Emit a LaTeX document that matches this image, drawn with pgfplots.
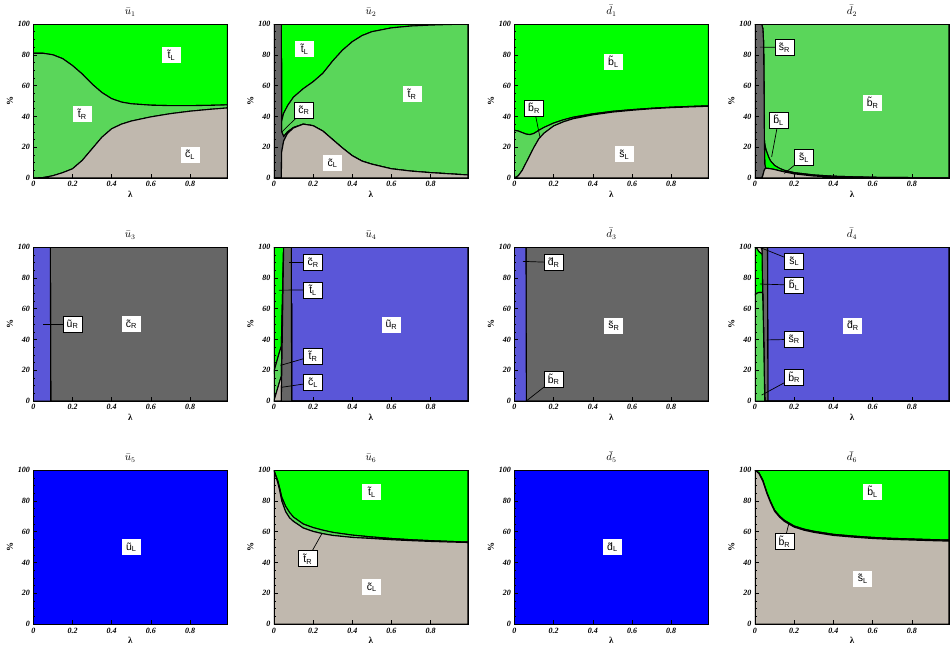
\documentclass[border=0pt]{standalone}
\usepackage{fontspec}
\setmainfont{Liberation Serif}
\newfontfamily\labfont{Liberation Sans}
\usepackage{pgfplots}
\pgfplotsset{compat=1.18}
\usepackage{pgfplotstable}
\usepgfplotslibrary{groupplots}

\definecolor{gA}{RGB}{0,255,0}
\definecolor{gB}{RGB}{90,214,90}
\definecolor{beige}{RGB}{192,184,174}
\definecolor{dgray}{RGB}{102,102,102}
\definecolor{purp}{RGB}{90,86,216}
\definecolor{blu}{RGB}{0,0,255}

\newcommand{\Lb}[2]{\~{#1}\textsubscript{#2}}

\tikzset{
  lab/.style={fill=white, font=\labfont\fontsize{10.5}{11}\selectfont, inner xsep=2.5pt, inner ysep=2pt, minimum height=16pt, minimum width=19pt},
  labb/.style={lab, draw=black, line width=0.7pt},
  lead/.style={black, line width=0.7pt}
}
\pgfplotsset{stk/.style={fill=#1, draw=black, line width=1.1pt}}

% position inside panel #1 at (lambda=#2, percent=#3)
\newcommand{\Lab}[4]{\node[lab] at ([shift={({#2*195.96pt},{#3*1.54pt})}]group #1.south west) {#4};}
\newcommand{\LabL}[6]{%
  \draw[lead] ([shift={({#2*195.96pt},{#3*1.54pt})}]group #1.south west) -- ([shift={({#4*195.96pt},{#5*1.54pt})}]group #1.south west);
  \node[labb] at ([shift={({#2*195.96pt},{#3*1.54pt})}]group #1.south west) {#6};}

% u1: lambda, cL, tR, tL
\pgfplotstableread{
l cL tR tL
0 0 81 19
0.05 0.3 80.7 19
0.1 1.5 78.5 20
0.15 3.5 74 22.5
0.2 6 67 27
0.25 11.5 56 32.5
0.3 19 42 39
0.35 26.5 29 44.5
0.4 32 19.5 48.5
0.45 35 14.3 50.7
0.5 37 11.2 51.8
0.6 39.7 7.6 52.7
0.7 41.8 5.2 53
0.8 43.4 3.6 53
0.9 44.6 2.6 52.8
0.99 45.5 2 52.5
}\tabuone

% u2: lambda, cL, cR, tR, tL
\pgfplotstableread{
l cL cR tR tL
0 0 100 0 0
0.038 0 100 0 0
0.04 17 13 7 63
0.05 24 3 15 58
0.07 29 1 17 53
0.1 32.5 0.3 19.7 47.5
0.15 35 0 23 42
0.2 34 0 28.5 37.5
0.25 30.5 0 37.5 32
0.3 25 0 51 24
0.35 19.5 0 63.5 17
0.4 14.5 0 74 11.5
0.45 11 0 81.5 7.5
0.5 9 0 86 5
0.6 6 0 91.5 2.5
0.7 4.5 0 94.2 1.3
0.8 3.5 0 95.8 0.7
0.9 2.7 0 97 0.3
0.99 2 0 97.8 0.2
}\tabutwo

% d1: lambda, sL, bR, bL
\pgfplotstableread{
l sL bR bL
0 0 31 69
0.02 1.5 29 69.5
0.04 5 24.5 70.5
0.06 10 18.5 71.5
0.08 15 13.2 71.8
0.1 20 9 71
0.125 25.5 5.5 69
0.15 29 3.8 67.2
0.2 33.8 1.9 64.3
0.25 36.5 1.3 62.2
0.3 38.5 1 60.5
0.4 41 0.7 58.3
0.5 42.8 0.5 56.7
0.6 44 0.4 55.6
0.7 45 0.3 54.7
0.8 45.7 0.3 54
0.9 46.2 0.3 53.5
0.99 46.6 0.3 53.1
}\tabdone

% d2: lambda, sL, sR, bL, bR
\pgfplotstableread{
l sL sR bL bR
0 0 100 0 0
0.034 0 100 0 0
0.04 1.5 95.5 0 3
0.044 3.5 84.5 0 12
0.046 4.5 55.5 0 40
0.048 5.3 19.7 0 75
0.05 5.8 3.2 13 78
0.055 6.2 0 12.8 81
0.06 6.3 0 10.7 83
0.07 6.2 0 7.3 86.5
0.08 6 0 5 89
0.1 5.5 0 2.7 91.8
0.125 4.7 0 1.6 93.7
0.15 4 0 1 95
0.2 2.7 0 0.8 96.5
0.3 1.3 0 0.7 98
0.4 0.7 0 0.5 98.8
0.5 0.4 0 0.4 99.2
0.6 0.3 0 0.2 99.5
0.8 0.15 0 0.15 99.7
0.99 0.1 0 0.1 99.8
}\tabdtwo

% u3: lambda, uR, cR
\pgfplotstableread{
l uR cR
0 100 0
0.087 100 0
0.089 0 100
0.99 0 100
}\tabuthree

% u4: lambda, cR, cL, tR, tL, uR
\pgfplotstableread{
l cR cL tR tL uR
0 0 0 19 81 0
0.01 0 4.3 19.2 76.5 0
0.02 0 8.6 19.4 72 0
0.03 0 12.9 19.6 67.5 0
0.038 0 16 19.5 64.5 0
0.05 100 0 0 0 0
0.089 100 0 0 0 0
0.091 0 0 0 0 100
0.99 0 0 0 0 100
}\tabufour

% d3: lambda, dR, sR
\pgfplotstableread{
l dR sR
0 100 0
0.059 100 0
0.061 0 100
0.99 0 100
}\tabdthree

% d4: lambda, bR, bL, sL, sR, dR
\pgfplotstableread{
l bR bL sL sR dR
0 69 31 0 0 0
0.01 70 29 1 0 0
0.02 70.5 26.5 3 0 0
0.03 70.5 25.5 4 0 0
0.036 70.5 25 2.5 2 0
0.039 70 2 0 28 0
0.043 50 0 0 50 0
0.047 20 0 0 80 0
0.05 0 0 0 100 0
0.064 0 0 0 100 0
0.066 0 0 0 0 100
0.99 0 0 0 0 100
}\tabdfour

% u6: lambda, cL, tR, tL
\pgfplotstableread{
l cL tR tL
0 100 0 0
0.01 96 0.5 3.5
0.02 91.7 1.3 7
0.03 86.5 1.5 12
0.04 80 2.5 17.5
0.06 73 3.5 23.5
0.08 69 3.5 27.5
0.1 66.7 2.8 30.5
0.15 62.4 2.6 35
0.2 60.2 2.5 37.3
0.25 58.7 2.3 39
0.3 57.6 2 40.4
0.4 56.3 1.5 42.2
0.5 55.6 1 43.4
0.6 54.8 0.8 44.4
0.7 54.2 0.6 45.2
0.8 53.7 0.5 45.8
0.9 53.3 0.4 46.3
0.99 53 0.3 46.7
}\tabusix

% d6: lambda, sL, bR, bL
\pgfplotstableread{
l sL bR bL
0 100 0 0
0.02 97.8 0.5 1.7
0.04 92.8 0.7 6.5
0.06 85 0.7 14.3
0.08 78.7 0.7 20.6
0.1 73.3 0.7 26
0.125 69.5 0.7 29.8
0.15 66.7 0.7 32.6
0.2 63 0.7 36.3
0.25 61 0.7 38.3
0.3 59.6 0.7 39.7
0.4 57.6 0.7 41.7
0.5 56.5 0.7 42.8
0.6 55.6 0.7 43.7
0.7 55 0.7 44.3
0.8 54.6 0.7 44.7
0.9 54.2 0.7 45.1
0.99 53.9 0.7 45.4
}\tabdsix

% u5 / d5: single state
\pgfplotstableread{
l v
0 100
0.99 100
}\tabfull

\begin{document}
\begin{tikzpicture}
\begin{groupplot}[
  group style={group size=4 by 3, horizontal sep=46.5pt, vertical sep=69pt},
  scale only axis, width=194pt, height=154pt,
  xmin=0, xmax=0.99, ymin=0, ymax=100,
  xtick={0,0.2,0.4,0.6,0.8}, ytick={0,20,40,60,80,100}, minor y tick num=3,
  tick pos=left, tick align=inside, axis on top,
  major tick length=4pt, minor tick length=2pt,
  tick style={black, line width=0.5pt},
  ticklabel style={font=\fontsize{8}{9}\selectfont\bfseries\itshape},
  /pgf/number format/assume math mode=true,
  xlabel={\textbf{λ}}, ylabel={\textbf{\%}},
  label style={font=\fontsize{9}{10}\selectfont},
  xlabel style={yshift=3pt},
  ylabel style={yshift=-2pt},
  title style={font=\fontsize{10.5}{12}\selectfont, yshift=-2pt},
  axis line style={line width=0.5pt},
  stack plots=y,
]
% ---------------- row 1 ----------------
\nextgroupplot[title={$\bar{u}_1$}]
\addplot[stk=beige] table[x=l,y=cL]{\tabuone} \closedcycle;
\addplot[stk=gB] table[x=l,y=tR]{\tabuone} \closedcycle;
\addplot[stk=gA] table[x=l,y=tL]{\tabuone} \closedcycle;

\nextgroupplot[title={$\bar{u}_2$}]
\addplot[stk=beige] table[x=l,y=cL]{\tabutwo} \closedcycle;
\addplot[stk=dgray] table[x=l,y=cR]{\tabutwo} \closedcycle;
\addplot[stk=gB] table[x=l,y=tR]{\tabutwo} \closedcycle;
\addplot[stk=gA] table[x=l,y=tL]{\tabutwo} \closedcycle;

\nextgroupplot[title={$\bar{d}_1$}]
\addplot[stk=beige] table[x=l,y=sL]{\tabdone} \closedcycle;
\addplot[stk=gB] table[x=l,y=bR]{\tabdone} \closedcycle;
\addplot[stk=gA] table[x=l,y=bL]{\tabdone} \closedcycle;

\nextgroupplot[title={$\bar{d}_2$}]
\addplot[stk=beige] table[x=l,y=sL]{\tabdtwo} \closedcycle;
\addplot[stk=dgray] table[x=l,y=sR]{\tabdtwo} \closedcycle;
\addplot[stk=gA] table[x=l,y=bL]{\tabdtwo} \closedcycle;
\addplot[stk=gB] table[x=l,y=bR]{\tabdtwo} \closedcycle;

% ---------------- row 2 ----------------
\nextgroupplot[title={$\bar{u}_3$}]
\addplot[stk=purp] table[x=l,y=uR]{\tabuthree} \closedcycle;
\addplot[stk=dgray] table[x=l,y=cR]{\tabuthree} \closedcycle;

\nextgroupplot[title={$\bar{u}_4$}]
\addplot[stk=dgray] table[x=l,y=cR]{\tabufour} \closedcycle;
\addplot[stk=beige] table[x=l,y=cL]{\tabufour} \closedcycle;
\addplot[stk=gB] table[x=l,y=tR]{\tabufour} \closedcycle;
\addplot[stk=gA] table[x=l,y=tL]{\tabufour} \closedcycle;
\addplot[stk=purp] table[x=l,y=uR]{\tabufour} \closedcycle;

\nextgroupplot[title={$\bar{d}_3$}]
\addplot[stk=purp] table[x=l,y=dR]{\tabdthree} \closedcycle;
\addplot[stk=dgray] table[x=l,y=sR]{\tabdthree} \closedcycle;

\nextgroupplot[title={$\bar{d}_4$}]
\addplot[stk=gB] table[x=l,y=bR]{\tabdfour} \closedcycle;
\addplot[stk=gA] table[x=l,y=bL]{\tabdfour} \closedcycle;
\addplot[stk=beige] table[x=l,y=sL]{\tabdfour} \closedcycle;
\addplot[stk=dgray] table[x=l,y=sR]{\tabdfour} \closedcycle;
\addplot[stk=purp] table[x=l,y=dR]{\tabdfour} \closedcycle;

% ---------------- row 3 ----------------
\nextgroupplot[title={$\bar{u}_5$}]
\addplot[stk=blu] table[x=l,y=v]{\tabfull} \closedcycle;

\nextgroupplot[title={$\bar{u}_6$}]
\addplot[stk=beige] table[x=l,y=cL]{\tabusix} \closedcycle;
\addplot[stk=gB] table[x=l,y=tR]{\tabusix} \closedcycle;
\addplot[stk=gA] table[x=l,y=tL]{\tabusix} \closedcycle;

\nextgroupplot[title={$\bar{d}_5$}]
\addplot[stk=blu] table[x=l,y=v]{\tabfull} \closedcycle;

\nextgroupplot[title={$\bar{d}_6$}]
\addplot[stk=beige] table[x=l,y=sL]{\tabdsix} \closedcycle;
\addplot[stk=gB] table[x=l,y=bR]{\tabdsix} \closedcycle;
\addplot[stk=gA] table[x=l,y=bL]{\tabdsix} \closedcycle;
\end{groupplot}

% ---------------- region labels ----------------
% u1
\Lab{c1r1}{0.705}{80}{\Lb{t}{L}}
\Lab{c1r1}{0.25}{41.5}{\Lb{t}{R}}
\Lab{c1r1}{0.8}{15}{\Lb{c}{L}}
% u2
\Lab{c2r1}{0.157}{83.6}{\Lb{t}{L}}
\LabL{c2r1}{0.153}{44}{0.042}{30}{\Lb{c}{R}}
\Lab{c2r1}{0.705}{54.5}{\Lb{t}{R}}
\Lab{c2r1}{0.3}{9.5}{\Lb{c}{L}}
% d1
\Lab{c3r1}{0.505}{75.5}{\Lb{b}{L}}
\LabL{c3r1}{0.1}{45.5}{0.13}{26.7}{\Lb{b}{R}}
\Lab{c3r1}{0.56}{15.3}{\Lb{s}{L}}
% d2
\LabL{c4r1}{0.15}{84.8}{0.025}{85}{\Lb{s}{R}}
\Lab{c4r1}{0.6}{49}{\Lb{b}{R}}
\LabL{c4r1}{0.12}{37.6}{0.085}{13.7}{\Lb{b}{L}}
\LabL{c4r1}{0.25}{13.3}{0.15}{3}{\Lb{s}{L}}
% u3
\LabL{c1r2}{0.2}{50}{0.05}{50}{\Lb{u}{R}}
\Lab{c1r2}{0.5}{50}{\Lb{c}{R}}
% u4
\LabL{c2r2}{0.2}{90}{0.076}{90}{\Lb{c}{R}}
\LabL{c2r2}{0.2}{72.2}{0.025}{72}{\Lb{t}{L}}
\LabL{c2r2}{0.2}{29.3}{0.034}{23.2}{\Lb{t}{R}}
\LabL{c2r2}{0.2}{12}{0.042}{9}{\Lb{c}{L}}
\Lab{c2r2}{0.6}{49.5}{\Lb{u}{R}}
% d3
\LabL{c3r2}{0.2}{90}{0.043}{90.7}{\Lb{d}{R}}
\Lab{c3r2}{0.507}{49}{\Lb{s}{R}}
\LabL{c3r2}{0.2}{14}{0.065}{0.5}{\Lb{b}{R}}
% d4
\LabL{c4r2}{0.2}{90.9}{0.034}{99.3}{\Lb{s}{L}}
\LabL{c4r2}{0.2}{75.3}{0.025}{76}{\Lb{b}{L}}
\LabL{c4r2}{0.2}{40.1}{0.059}{39.7}{\Lb{s}{R}}
\LabL{c4r2}{0.2}{15.4}{0.034}{3.9}{\Lb{b}{R}}
\Lab{c4r2}{0.5}{49}{\Lb{d}{R}}
% u5
\Lab{c1r3}{0.5}{50}{\Lb{u}{L}}
% u6
\Lab{c2r3}{0.5}{85.6}{\Lb{t}{L}}
\LabL{c2r3}{0.173}{42.4}{0.246}{59}{\Lb{t}{R}}
\Lab{c2r3}{0.5}{24}{\Lb{c}{L}}
% d5
\Lab{c3r3}{0.5}{50}{\Lb{d}{L}}
% d6
\Lab{c4r3}{0.6}{86}{\Lb{b}{L}}
\LabL{c4r3}{0.15}{53.5}{0.173}{65.5}{\Lb{b}{R}}
\Lab{c4r3}{0.55}{29.6}{\Lb{s}{L}}

\pgfresetboundingbox
\path (group c1r1.north west) ++(-33.3pt,24pt) coordinate (tl);
\path (group c4r3.south east) ++(2pt,-20pt) coordinate (br);
\useasboundingbox (tl) rectangle (br);
\end{tikzpicture}
\end{document}
